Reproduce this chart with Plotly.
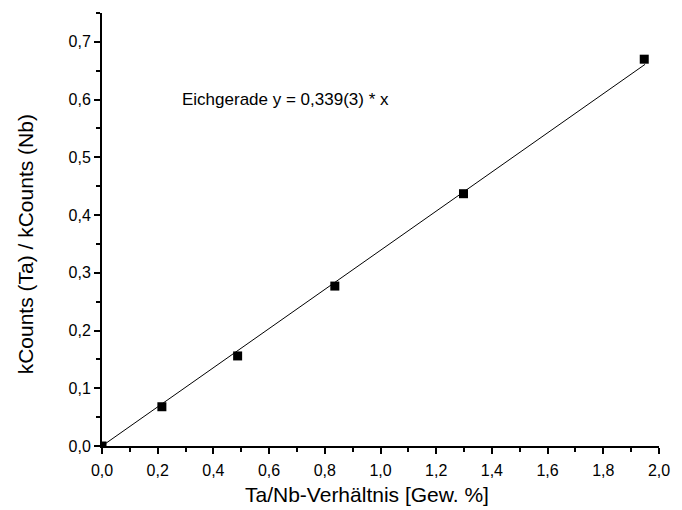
import plotly.graph_objects as go

ratio = [0.0, 0.215, 0.487, 0.836, 1.298, 1.947]
counts = [0.0, 0.068, 0.156, 0.277, 0.437, 0.670]
slope = 0.339
fit_x = [0.0, 1.95]
fit_y = [slope * v for v in fit_x]

font = "Liberation Sans, Arial, sans-serif"

fig = go.Figure()
fig.add_trace(go.Scatter(x=fit_x, y=fit_y, mode="lines",
                         line=dict(color="black", width=1), showlegend=False))
fig.add_trace(go.Scatter(x=ratio, y=counts, mode="markers",
                         marker=dict(symbol="square", size=9, color="black"),
                         showlegend=False))

fig.add_annotation(x=0.28, y=0.6, xref="x", yref="y", text="Eichgerade y = 0,339(3) * x",
                   showarrow=False, xanchor="left", yanchor="middle",
                   font=dict(family=font, size=17, color="black"))
# axis titles
fig.add_annotation(x=0.476, y=-0.113, xref="paper", yref="paper", text="Ta/Nb-Verhältnis [Gew. %]",
                   showarrow=False, xanchor="center", yanchor="middle",
                   font=dict(family=font, size=21, color="black"))
fig.add_annotation(x=-0.1376, y=0.4665, xref="paper", yref="paper", text="kCounts (Ta) / kCounts (Nb)",
                   showarrow=False, xanchor="center", yanchor="middle", textangle=-90,
                   font=dict(family=font, size=21, color="black"))

axis_common = dict(showline=True, linecolor="black", linewidth=2, showgrid=False,
                   zeroline=False, ticks="outside", ticklen=6, tickwidth=2,
                   tickcolor="black", mirror=False,
                   tickfont=dict(family=font, size=16, color="black"),
                   tickformat=".1f")

fig.update_xaxes(range=[0, 2.0], dtick=0.2, tick0=0, ticklabelstandoff=3,
                 minor=dict(dtick=0.1, ticks="outside", ticklen=4, tickwidth=2, tickcolor="black"),
                 **axis_common)
fig.update_yaxes(range=[0, 0.75], dtick=0.1, tick0=0,
                 minor=dict(dtick=0.05, ticks="outside", ticklen=4, tickwidth=2, tickcolor="black"),
                 **axis_common)

fig.update_layout(width=682, height=510, margin=dict(l=102, r=13, t=13, b=64),
                  plot_bgcolor="white", paper_bgcolor="white", separators=",.",
                  font=dict(family=font, color="black"))

fig.write_html("out.html")
